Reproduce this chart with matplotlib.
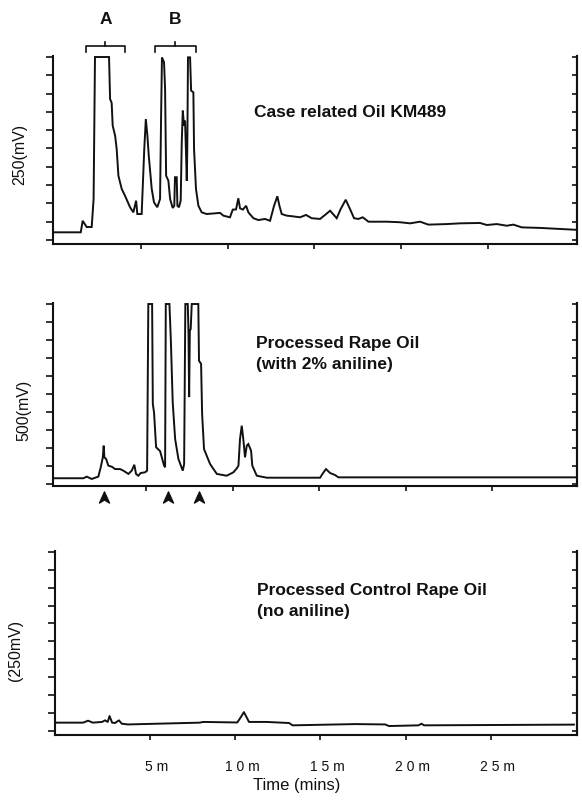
import matplotlib
matplotlib.use("Agg")
import matplotlib.pyplot as plt
import matplotlib.transforms as mtransforms
from matplotlib.path import Path

plt.rcParams["font.family"] = ["Liberation Sans", "DejaVu Sans"]

# ---- chromatogram traces: retention time (min) vs detector response (% of full scale)
case_time = [0.00, 1.54, 1.65, 1.88, 2.17, 2.28, 2.36, 3.17, 3.23, 3.32, 3.38, 3.52, 3.61, 3.71,
             3.90, 4.09, 4.38, 4.57, 4.73, 4.80, 5.05, 5.20, 5.29, 5.38, 5.46, 5.63, 5.76, 5.95,
             6.11, 6.17, 6.22, 6.34, 6.40, 6.46, 6.59, 6.69, 6.84, 6.93, 6.97, 7.07, 7.11, 7.20,
             7.30, 7.36, 7.42, 7.49, 7.55, 7.61, 7.65, 7.68, 7.72, 7.84, 7.90, 8.03, 8.07, 8.18,
             8.32, 8.51, 8.80, 9.57, 9.76, 10.14, 10.30, 10.49, 10.62, 10.72, 10.88, 11.07, 11.20,
             11.49, 11.78, 12.16, 12.45, 12.68, 12.87, 12.99, 13.12, 13.41, 13.70, 14.18, 14.52,
             14.85, 15.33, 15.62, 15.91, 16.29, 16.52, 16.81, 17.06, 17.29, 17.54, 17.79, 18.12,
             19.18, 19.94, 20.52, 21.10, 21.57, 22.63, 23.40, 24.55, 24.94, 25.52, 26.09, 26.47,
             26.96, 28.01, 30.03]
case_signal = [4.2, 4.2, 10.5, 7.1, 7.1, 22.4, 100, 100, 77, 75, 62.5, 57, 49.7, 35.1,
               27.9, 24.2, 17.9, 15.1, 21.5, 14.2, 14.2, 49.7, 66.1, 57, 46, 27.9, 20.6, 17.9,
               22.4, 67.9, 99.8, 97.1, 82.5, 35.1, 32.4, 22.4, 17.5, 18.7, 34.3, 34.3, 18.7, 17.9,
               21.5, 53.4, 70.7, 62.5, 65.2, 46.1, 32.4, 49.7, 99.8, 99.8, 81.6, 80.7, 49.7, 27.9,
               18.7, 15.1, 14.2, 14.8, 13.3, 12.4, 16.6, 16.7, 22.8, 17.3, 16.6, 18.7, 15.1,
               11.9, 10.9, 11.5, 10.5, 18.7, 23.9, 18.7, 14.2, 13.3, 13.0, 12.4, 13.7,
               11.9, 11.5, 13.7, 16.0, 11.9, 16.9, 22.0, 16.9, 11.9, 11.5, 12.4, 10.0,
               10.0, 9.7, 9.1, 10.0, 8.4, 8.7, 9.1, 9.3, 8.2, 8.7, 7.8, 8.4,
               6.9, 6.6, 5.6]

rape_time = [-0.36, 1.38, 1.57, 1.86, 2.24, 2.38, 2.50, 2.55, 2.59, 2.69, 2.82, 3.02, 3.21, 3.50,
             3.69, 3.98, 4.17, 4.32, 4.42, 4.55, 4.69, 4.94, 5.06, 5.13, 5.35, 5.39, 5.46, 5.58,
             5.69, 5.81, 5.91, 6.04, 6.10, 6.14, 6.35, 6.43, 6.54, 6.68, 6.87, 7.12, 7.20, 7.27,
             7.41, 7.45, 7.49, 7.53, 7.58, 7.64, 8.02, 8.06, 8.18, 8.24, 8.35, 8.51, 8.70, 9.09,
             9.66, 10.05, 10.26, 10.34, 10.43, 10.53, 10.62, 10.72, 10.82, 10.91, 11.07, 11.14,
             11.40, 11.98, 15.06, 15.23, 15.40, 15.64, 15.92, 16.12, 29.80]
rape_signal = [3.2, 3.2, 4.1, 2.8, 4.1, 9.3, 14.8, 21.3, 14.8, 13.9, 10.2, 9.6, 8.3, 8.3,
               7.4, 5.6, 7.4, 10.7, 5.6, 4.6, 6.1, 6.5, 7.4, 100, 100, 44.4, 39.8, 20.4,
               19.4, 18.3, 14.8, 10.2, 9.3, 100, 100, 80.6, 45.4, 25, 13.9, 7.4, 11.1, 100,
               100, 85.2, 48.3, 85.2, 86.1, 100, 100, 68.5, 66.7, 38.9, 19.4, 15.6, 11.1, 5.6,
               4.6, 6.5, 8.9, 10.2, 25, 32.4, 25, 14.8, 21.3, 22.2, 18.5, 10.2,
               4.6, 3.5, 3.5, 6.1, 8.3, 6.1, 5.0, 3.7, 3.7]

control_time = [-0.51, 1.08, 1.37, 1.65, 2.19, 2.37, 2.52, 2.63, 2.78, 2.95, 3.18, 3.35, 3.71,
                7.92, 8.12, 10.12, 10.34, 10.51, 10.66, 10.81, 11.84, 13.16, 13.37, 17.06,
                18.80, 19.02, 20.75, 20.93, 21.08, 29.87]
control_signal = [4.5, 4.5, 5.6, 4.5, 4.9, 5.8, 4.9, 8.2, 4.5, 4.3, 5.8, 3.9, 3.5,
                  4.5, 4.9, 4.6, 7.7, 10.4, 7.7, 4.9, 4.9, 4.3, 3.0, 3.7,
                  3.5, 2.6, 3.0, 3.9, 3.0, 3.4]

time_ticks = [5, 10, 15, 20, 25]
time_tick_labels = ["5 m", "1 0 m", "1 5 m", "2 0 m", "2 5 m"]
response_ticks = list(range(0, 101, 10))

panel_titles = ["Case related Oil KM489",
                "Processed Rape Oil\n(with 2% aniline)",
                "Processed Control Rape Oil\n(no aniline)"]
panel_ylabels = ["250(mV)", "500(mV)", "(250mV)"]

region_labels = ["A", "B"]
region_spans = [(1.84, 4.09), (5.82, 8.18)]
marked_peak_times = [2.59, 6.25, 8.06]

W, H = 582, 804
fig = plt.figure(figsize=(W / 100, H / 100), dpi=100)
fig.patch.set_facecolor("white")
INK = "#111111"


def px_axes(left, top, right, bottom):
    return fig.add_axes([left / W, 1 - bottom / H, (right - left) / W, (bottom - top) / H])


def style_panel(ax, xlim, ylim, show_labels):
    ax.set_xlim(*xlim)
    ax.set_ylim(*ylim)
    for side in ("top",):
        ax.spines[side].set_visible(False)
    for side in ("left", "bottom", "right"):
        ax.spines[side].set_linewidth(1.5)
        ax.spines[side].set_color(INK)
    ax.set_xticks(time_ticks)
    ax.set_yticks(response_ticks)
    ax.tick_params(axis="y", direction="out", length=5, width=1.2, color=INK,
                   labelleft=False, left=True, right=False)
    ax.tick_params(axis="x", direction="out", length=3.6, width=1.2, color=INK,
                   pad=13.5, labelsize=10, labelcolor=INK)
    if show_labels:
        ax.set_xticklabels(time_tick_labels)
        shift = mtransforms.ScaledTranslation(7 / 100, 0, fig.dpi_scale_trans)
        for lab in ax.get_xticklabels():
            lab.set_transform(lab.get_transform() + shift)
    else:
        ax.set_xticklabels([])
    # inward ticks on the right-hand pen scale
    tw = ax.twinx()
    tw.set_ylim(*ylim)
    tw.set_yticks(response_ticks)
    tw.tick_params(axis="y", direction="in", length=3.6, width=1.2, color=INK, labelright=False)
    for side in ("top", "left", "bottom"):
        tw.spines[side].set_visible(False)
    tw.spines["right"].set_linewidth(1.5)
    tw.spines["right"].set_color(INK)
    return ax


ax_top = px_axes(53, 57, 577, 245)
style_panel(ax_top, (-0.06, 30.14), (-2.19, 100.55), False)
ax_top.plot(case_time, case_signal, color=INK, lw=1.4, clip_on=False, solid_joinstyle="miter")

ax_mid = px_axes(53, 304, 577, 487)
style_panel(ax_mid, (-0.38, 29.91), (-1.11, 100.56), False)
ax_mid.plot(rape_time, rape_signal, color=INK, lw=1.4, clip_on=False, solid_joinstyle="miter")

ax_bot = px_axes(55, 552, 577, 736)
style_panel(ax_bot, (-0.57, 30.05), (-2.41, 100.56), True)
ax_bot.plot(control_time, control_signal, color=INK, lw=1.4, clip_on=False)

# bracketed peak groups above the first trace
blend_top = mtransforms.blended_transform_factory(ax_top.transData, ax_top.transAxes)
for label, (t0, t1) in zip(region_labels, region_spans):
    tc = 0.5 * (t0 + t1)
    ax_top.plot([t0, t0, t1, t1], [1.021, 1.053, 1.053, 1.021], color=INK, lw=1.2,
                transform=blend_top, clip_on=False)
    ax_top.plot([tc, tc], [1.053, 1.074], color=INK, lw=1.2, transform=blend_top, clip_on=False)
    ax_top.text(tc, 1.197, label, transform=blend_top, ha="center", va="center",
                fontsize=12.5, fontweight="bold", color=INK)

# arrowheads marking peaks in the aniline-spiked oil
arrow_marker = Path([(0, 0.5), (0.45, -0.5), (0, -0.22), (-0.45, -0.5), (0, 0.5)],
                    [Path.MOVETO, Path.LINETO, Path.LINETO, Path.LINETO, Path.CLOSEPOLY])
blend_mid = mtransforms.blended_transform_factory(ax_mid.transData, ax_mid.transAxes)
ax_mid.plot(marked_peak_times, [-0.06] * len(marked_peak_times), ls="none",
            marker=arrow_marker, markersize=8, color=INK, transform=blend_mid, clip_on=False)

# panel captions
caption_pos = [(254, 117), (256, 348), (257, 595)]
for text, (x, y) in zip(panel_titles, caption_pos):
    for i, line in enumerate(text.split("\n")):
        fig.text(x / W, 1 - (y + i * 21.5) / H, line, ha="left", va="baseline",
                 fontsize=12.5, fontweight="bold", color=INK)

ylabel_pos = [(19.5, 154), (24, 410), (16, 650)]
for text, (x, y) in zip(panel_ylabels, ylabel_pos):
    fig.text(x / W, 1 - y / H, text, rotation=90, ha="center", va="center",
             fontsize=11.5, color=INK)

fig.text(297 / W, 1 - 786 / H, "Time (mins)", ha="center", va="center", fontsize=12, color=INK)

fig.savefig("out.png", dpi=100, facecolor="white")
